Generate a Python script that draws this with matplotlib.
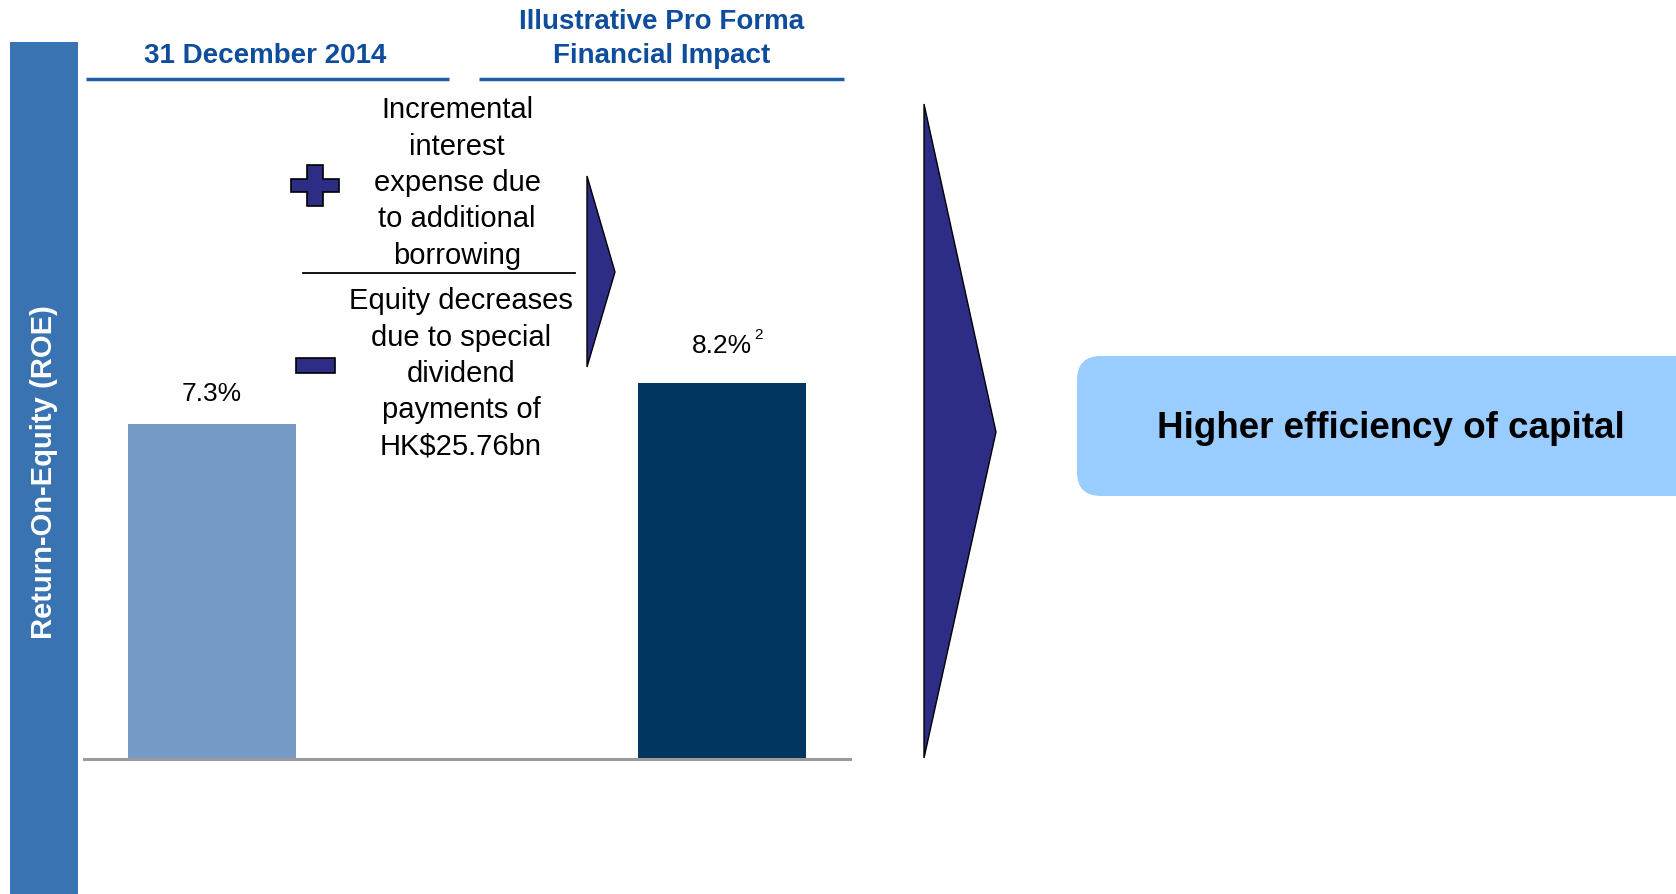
import numpy as np
import matplotlib.pyplot as plt
from matplotlib.patches import Polygon, FancyBboxPatch, Rectangle

plt.rcParams['font.family'] = ['Liberation Sans', 'DejaVu Sans']

# Chart data
periods = ["31 December 2014", "Illustrative Pro Forma\nFinancial Impact"]
roe_values = [7.3, 8.2]
value_labels = ["7.3%", "8.2%"]
value_notes = ["", "2"]
bar_colors = ["#759AC6", "#00365F"]
plus_text = "Incremental\ninterest\nexpense due\nto additional\nborrowing"
minus_text = "Equity decreases\ndue to special\ndividend\npayments of\nHK$25.76bn"
side_label = "Return-On-Equity (ROE)"
conclusion = "Higher efficiency of capital"

W, H = 1676, 895
fig = plt.figure(figsize=(W / 100, H / 100), dpi=100)

# Overlay axes in pixel coordinates for the slide decorations
ov = fig.add_axes([0, 0, 1, 1])
ov.set_xlim(0, W)
ov.set_ylim(H, 0)
ov.axis('off')

# Left sidebar
ov.add_patch(Rectangle((10, 43), 68, H - 43, color="#3A73B2", lw=0))
ov.text(44, 472, side_label, rotation=90, color="white", fontsize=21,
        fontweight="bold", ha="center", va="center")

# Column headers and underlines
head_color = "#0E4C9C"
ov.text(265, 56, periods[0], color=head_color, fontsize=20, fontweight="bold",
        ha="center", va="center")
ov.text(662, 39, periods[1], color=head_color, fontsize=20, fontweight="bold",
        ha="center", va="center", linespacing=1.4)
ov.plot([86, 449], [80, 80], color="#1F5CA8", lw=2.5, solid_capstyle="butt")
ov.plot([479, 844], [80, 80], color="#1F5CA8", lw=2.5, solid_capstyle="butt")

# Drivers text with plus / minus symbols
ov.text(457, 183, plus_text, fontsize=21, ha="center", va="center", linespacing=1.38)
ov.text(461, 374, minus_text, fontsize=21, ha="center", va="center", linespacing=1.38)
ov.plot([303, 575], [274, 274], color="black", lw=1.3)

arrow_fill = "#2E2D86"
plus = Polygon([(307, 166), (323, 166), (323, 180), (339, 180), (339, 193),
                (323, 193), (323, 207), (307, 207), (307, 193), (291, 193),
                (291, 180), (307, 180)], closed=True, fc=arrow_fill, ec="black", lw=1.2)
ov.add_patch(plus)
ov.add_patch(Rectangle((296, 359), 39, 15, fc=arrow_fill, ec="black", lw=1.2))

# Small and large arrows
ov.add_patch(Polygon([(587, 177), (615, 273), (587, 368)], closed=True,
                     fc=arrow_fill, ec="black", lw=1))
ov.add_patch(Polygon([(924, 105), (996, 433), (924, 759)], closed=True,
                     fc=arrow_fill, ec="black", lw=1))

# Conclusion box
ov.add_patch(FancyBboxPatch((1077, 357), 640, 140,
                            boxstyle="round,pad=0,rounding_size=24",
                            fc="#99CCFF", ec="none"))
ov.text(1391, 428, conclusion, fontsize=26.5, fontweight="bold",
        ha="center", va="center")

# Bar chart axes
px_per_unit = 45.9
ax = fig.add_axes([84 / W, (H - 760) / H, 766 / W, 680 / H])
ax.set_facecolor("none")
x = np.arange(len(roe_values))
bars = ax.bar(x, roe_values, width=0.329, color=bar_colors)
ax.set_xlim(-0.25, 1.25)
ax.set_ylim(0, 680 / px_per_unit)
for s in ["top", "left", "right"]:
    ax.spines[s].set_visible(False)
ax.spines["bottom"].set_color("#9A9A9A")
ax.spines["bottom"].set_linewidth(2.2)
ax.set_xticks([])
ax.set_yticks([])

for i, (v, lab, note) in enumerate(zip(roe_values, value_labels, value_notes)):
    ax.annotate(lab, (x[i], v), xytext=(0, 22 if i == 0 else 27),
                textcoords="offset points", ha="center", va="center", fontsize=19)
    if note:
        ax.annotate(note, (x[i], v), xytext=(26, 35), textcoords="offset points",
                    ha="center", va="center", fontsize=11)

fig.savefig("out.png", dpi=100)
